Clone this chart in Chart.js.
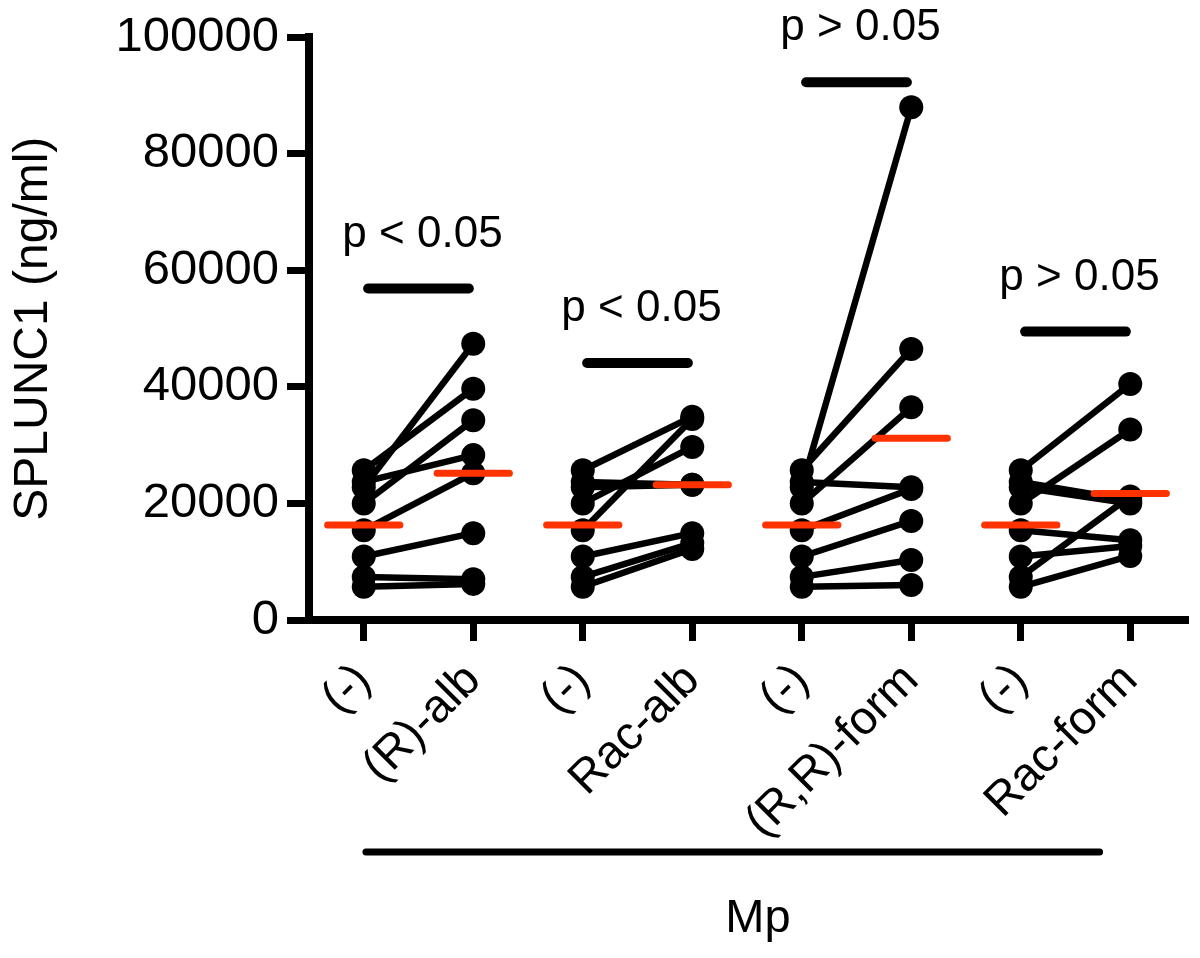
<!DOCTYPE html>
<html>
<head>
<meta charset="utf-8">
<script src="https://cdn.jsdelivr.net/npm/chart.js@4.4.0/dist/chart.umd.min.js"></script>
<style>
    body { margin: 0; background: #fff; }
    canvas { display: block; }
</style>
</head>
<body>
<canvas id="pairedChart" width="1200" height="958"></canvas>
<script>
const categories = ['(-)', '(R)-alb', '(-)', 'Rac-alb', '(-)', '(R,R)-form', '(-)', 'Rac-form'];
const yTicks = [0, 20000, 40000, 60000, 80000, 100000];

// same donors, untreated
const baseline = [25700, 23700, 22800, 20000, 15400, 10900, 7400, 5700];
const rAlb = [39700, 28300, 47400, 34300, 25200, 14900, 7000, 6200];
const racAlb = [34900, 23200, 23200, 29700, 34500, 14900, 13200, 12200];
const rrForm = [46500, 22800, 88000, 36500, 22500, 17000, 10300, 6000];
const racForm = [40500, 20500, 20000, 32700, 13700, 12700, 21200, 11000];

const baselineMedian = [16300, 16300, 16300, 16300];
const treatedMedian = [25200, 23200, 31200, 21700];

const pLabels = ['p < 0.05', 'p < 0.05', 'p > 0.05', 'p > 0.05'];
const pBarValue = [56900, 44100, 92300, 49500];

const FONT = '"Liberation Sans", Arial, Helvetica, sans-serif';

document.addEventListener('DOMContentLoaded', () => {
    initPairedChart();
});

function initPairedChart() {
    const ctx = document.getElementById('pairedChart').getContext('2d');
    const treated = [rAlb, racAlb, rrForm, racForm];
    const datasets = [];

    // medians on top
    treated.forEach((_, g) => {
        [[2 * g, baselineMedian[g]], [2 * g + 1, treatedMedian[g]]].forEach(([x, m]) => {
            datasets.push({
                data: [{ x: x - 0.33, y: m }, { x: x + 0.33, y: m }],
                showLine: true,
                borderColor: '#ff3300',
                borderWidth: 7,
                borderCapStyle: 'round',
                pointRadius: 0
            });
        });
        datasets.push({
            data: [{ x: 2 * g + 0.04, y: pBarValue[g] }, { x: 2 * g + 0.96, y: pBarValue[g] }],
            showLine: true,
            borderColor: '#000',
            borderWidth: 10,
            borderCapStyle: 'round',
            pointRadius: 0
        });
    });

    treated.forEach((values, g) => {
        values.forEach((v, s) => {
            datasets.push({
                data: [{ x: 2 * g, y: baseline[s] }, { x: 2 * g + 1, y: v }],
                showLine: true,
                borderColor: '#000',
                borderWidth: 6.5,
                pointRadius: 12,
                pointBackgroundColor: '#000',
                pointBorderWidth: 0
            });
        });
    });

    const annotations = {
        id: 'annotations',
        afterDatasetsDraw(chart) {
            const c = chart.ctx;
            const xs = chart.scales.x;
            const ys = chart.scales.y;
            c.save();
            c.fillStyle = '#000';
            c.font = '44px ' + FONT;
            c.textAlign = 'center';
            c.textBaseline = 'alphabetic';
            pLabels.forEach((t, g) => {
                c.fillText(t, xs.getPixelForValue(2 * g + 0.5) + 4, ys.getPixelForValue(pBarValue[g]) - 42);
            });

            const bottom = chart.chartArea.bottom;
            c.strokeStyle = '#000';
            c.lineWidth = 7;
            c.lineCap = 'round';
            c.beginPath();
            c.moveTo(xs.getPixelForValue(0.02), bottom + 232);
            c.lineTo(xs.getPixelForValue(6.72), bottom + 232);
            c.stroke();

            c.font = '47px ' + FONT;
            c.fillText('Mp', xs.getPixelForValue(3.6), bottom + 312);
            c.restore();
        }
    };

    new Chart(ctx, {
        type: 'scatter',
        data: { datasets },
        options: {
            responsive: false,
            animation: false,
            layout: { padding: { top: 37, right: 15, left: 0, bottom: 0 } },
            plugins: { legend: { display: false }, tooltip: { enabled: false } },
            scales: {
                x: {
                    type: 'linear',
                    min: -0.5,
                    max: 7.5,
                    afterBuildTicks: (scale) => {
                        scale.ticks = categories.map((_, i) => ({ value: i }));
                    },
                    afterFit: (scale) => { scale.height = 338; },
                    border: { display: true, color: '#000', width: 8 },
                    grid: { drawOnChartArea: false, drawTicks: true, tickLength: 21, color: '#000', lineWidth: 7 },
                    ticks: {
                        color: '#000',
                        font: { family: FONT, size: 47 },
                        minRotation: 45,
                        maxRotation: 45,
                        padding: 12,
                        autoSkip: false,
                        callback: (value) => categories[value]
                    }
                },
                y: {
                    min: 0,
                    max: 100000,
                    afterBuildTicks: (scale) => {
                        scale.ticks = yTicks.map((v) => ({ value: v }));
                    },
                    afterFit: (scale) => { scale.width = 309; },
                    border: { display: true, color: '#000', width: 8 },
                    grid: { drawOnChartArea: false, drawTicks: true, tickLength: 22, color: '#000', lineWidth: 7 },
                    ticks: {
                        color: '#000',
                        font: { family: FONT, size: 49 },
                        padding: 8,
                        callback: (value) => String(value)
                    },
                    title: {
                        display: true,
                        text: 'SPLUNC1 (ng/ml)',
                        color: '#000',
                        font: { family: FONT, size: 48 },
                        padding: { top: 5, bottom: 0 }
                    }
                }
            }
        },
        plugins: [annotations]
    });
}
</script>
</body>
</html>
